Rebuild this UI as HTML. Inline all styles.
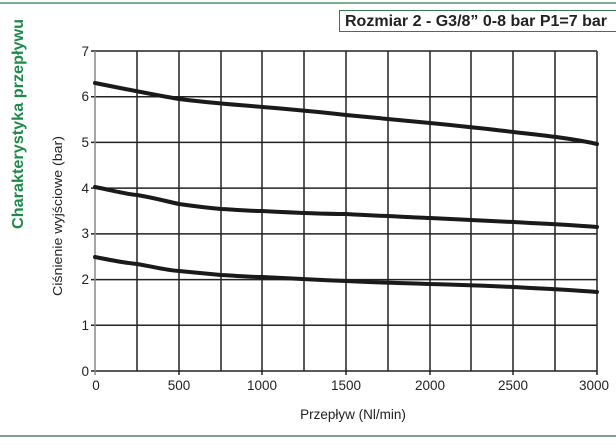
<!DOCTYPE html>
<html><head><meta charset="utf-8"><style>
body{margin:0;background:#fff;}
svg{display:block;font-family:"Liberation Sans",sans-serif;}
</style></head><body>
<svg width="616" height="445" viewBox="0 0 616 445">
<line x1="0" y1="3" x2="616" y2="3" stroke="#2e7d4f" stroke-width="1.2"/>
<rect x="339.5" y="10.5" width="280" height="21" fill="#fff" stroke="#2e7d4f" stroke-width="1"/>
<text x="345" y="26" font-size="16" font-weight="bold" fill="#222" textLength="262" lengthAdjust="spacingAndGlyphs">Rozmiar 2 - G3/8” 0-8 bar P1=7 bar</text>
<text transform="translate(23,124) rotate(-90)" text-anchor="middle" font-size="16" font-weight="bold" fill="#1e8a4a" textLength="210" lengthAdjust="spacingAndGlyphs">Charakterystyka przepływu</text>
<text transform="translate(62,216) rotate(-90)" text-anchor="middle" font-size="13" fill="#222" textLength="160" lengthAdjust="spacingAndGlyphs">Ciśnienie wyjściowe (bar)</text>
<g stroke="#222" stroke-width="1.5">
<line x1="91" y1="51" x2="597" y2="51"/>
<line x1="91" y1="96.7" x2="597" y2="96.7"/>
<line x1="91" y1="142.4" x2="597" y2="142.4"/>
<line x1="91" y1="188.1" x2="597" y2="188.1"/>
<line x1="91" y1="233.9" x2="597" y2="233.9"/>
<line x1="91" y1="279.6" x2="597" y2="279.6"/>
<line x1="91" y1="325.3" x2="597" y2="325.3"/>
<line x1="91" y1="371" x2="597" y2="371"/>
<line x1="137" y1="51" x2="137" y2="371"/>
<line x1="179" y1="51" x2="179" y2="375"/>
<line x1="221" y1="51" x2="221" y2="371"/>
<line x1="262" y1="51" x2="262" y2="375"/>
<line x1="304" y1="51" x2="304" y2="371"/>
<line x1="346" y1="51" x2="346" y2="375"/>
<line x1="388" y1="51" x2="388" y2="371"/>
<line x1="430" y1="51" x2="430" y2="375"/>
<line x1="471" y1="51" x2="471" y2="371"/>
<line x1="513" y1="51" x2="513" y2="375"/>
<line x1="555" y1="51" x2="555" y2="371"/>
<line x1="597" y1="51" x2="597" y2="375"/>
</g>
<line x1="95" y1="51" x2="95" y2="375" stroke="#888" stroke-width="1.5"/>
<g font-size="13.5" fill="#222" text-anchor="end">
<text x="89" y="56">7</text><text x="89" y="101">6</text><text x="89" y="147">5</text><text x="89" y="193">4</text>
<text x="89" y="238">3</text><text x="89" y="284">2</text><text x="89" y="330">1</text><text x="89" y="376">0</text>
</g>
<g font-size="13.5" fill="#222" text-anchor="middle">
<text x="96" y="390">0</text><text x="179" y="390">500</text><text x="262" y="390">1000</text><text x="346" y="390">1500</text>
<text x="430" y="390">2000</text><text x="513" y="390">2500</text><text x="594" y="390">3000</text>
<text x="353" y="419">Przepływ (Nl/min)</text>
</g>
<g fill="none" stroke="#1a1a1a" stroke-width="4" stroke-linejoin="round" stroke-linecap="round">
<path d="M95,83 C130,90 160,96 179,99 C210,103 240,105 262,107 C300,110 320,112 346,115 C380,118 410,121 430,123 C470,127 490,129 513,132 C550,136 575,139 597,144"/>
<path d="M95,187 C115,191 125,194 137,195 C155,198 165,201 179,204 C200,207 210,208 221,209 C240,210 250,211 262,211 C300,213 320,214 346,214 C380,216 410,217 430,218 C470,220 490,221 513,222 C550,224 575,225 597,227"/>
<path d="M95,257 C110,260 125,263 137,264 C155,267 165,270 179,271 C200,273 210,274 221,275 C240,276 250,277 262,277 C300,279 320,280 346,281 C380,283 410,283 430,284 C470,285 490,286 513,287 C550,289 575,290 597,292"/>
</g>
<line x1="0" y1="436" x2="616" y2="436" stroke="#2e6b4a" stroke-width="1.2"/>
</svg>
</body></html>
